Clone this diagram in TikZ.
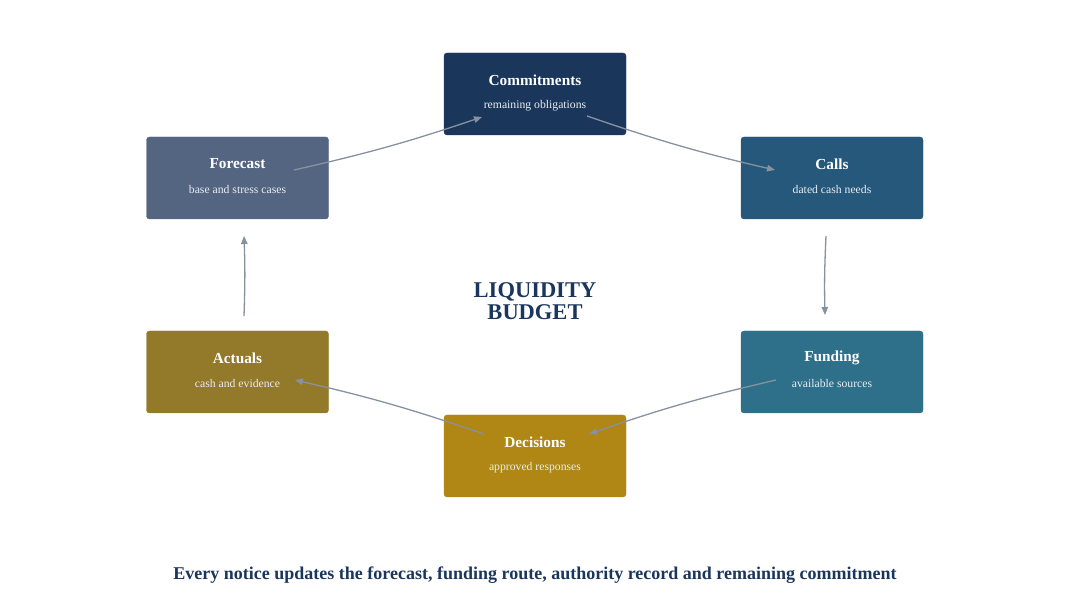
\documentclass[tikz,border=0pt]{standalone}
\usepackage{fontspec}
\setmainfont{Liberation Serif}
\usetikzlibrary{arrows.meta}
\definecolor{cCom}{HTML}{1B365B}
\definecolor{cFor}{HTML}{546582}
\definecolor{cCal}{HTML}{25587A}
\definecolor{cFun}{HTML}{2E708A}
\definecolor{cDec}{HTML}{B08614}
\definecolor{cAct}{HTML}{93792A}
\definecolor{cArr}{HTML}{8791A0}
\definecolor{cTxt}{HTML}{1B365D}
\definecolor{cSub}{HTML}{E8ECF2}
\tikzset{
  box/.style={draw=#1, fill=#1, rounded corners=3pt, minimum width=182pt, minimum height=82pt, inner sep=0pt},
  ttl/.style={text=white, font=\fontsize{15.3}{18}\selectfont\bfseries, inner sep=0pt},
  sub/.style={text=cSub, font=\fontsize{11.7}{13}\selectfont, inner sep=0pt},
  arr/.style={draw=cArr, line width=1.3pt, -{Triangle[length=8pt,width=6.5pt]}},
}
\begin{document}
\begin{tikzpicture}[x=1pt,y=1pt]
\useasboundingbox (0,0) rectangle (1070,610);
% boxes
\node[box=cCom] (com) at (535,516) {};
\node[box=cFor] (for) at (237.5,432) {};
\node[box=cCal] (cal) at (832,432) {};
\node[box=cFun] (fun) at (832,238) {};
\node[box=cDec] (dec) at (535,154) {};
\node[box=cAct] (act) at (237.5,238) {};
% texts
\node[ttl] (comT) at (535,530) {Commitments};
\node[sub] (comS) at (535,504) {remaining obligations};
\node[ttl] (forT) at (237.5,446) {Forecast};
\node[sub] (forS) at (237.5,420) {base and stress cases};
\node[ttl] (calT) at (832,446) {Calls};
\node[sub] (calS) at (832,420) {dated cash needs};
\node[ttl] (funT) at (832,252) {Funding};
\node[sub] (funS) at (832,226) {available sources};
\node[ttl] (decT) at (535,168) {Decisions};
\node[sub] (decS) at (535,142) {approved responses};
\node[ttl] (actT) at (237.5,252) {Actuals};
\node[sub] (actS) at (237.5,226) {cash and evidence};
% centre
\node[text=cTxt, font=\fontsize{22.5}{22}\selectfont\bfseries, align=center, inner sep=0pt] (ctr) at (535,309) {LIQUIDITY\\BUDGET};
% caption
\node[text=cTxt, font=\fontsize{18}{20}\selectfont\bfseries, inner sep=0pt] (cap) at (535,35) {Every notice updates the forecast, funding route, authority record and remaining commitment};
% connector ends
\coordinate (a1s) at (294,440); \coordinate (a1e) at (482,493);
\coordinate (a2s) at (587,494); \coordinate (a2e) at (775,440);
\coordinate (a3s) at (826,374); \coordinate (a3e) at (825,295);
\coordinate (a4s) at (776,230); \coordinate (a4e) at (589,176);
\coordinate (a5s) at (484,176); \coordinate (a5e) at (295,230);
\coordinate (a6s) at (244,294); \coordinate (a6e) at (244,374);
\draw[arr] (a1s) to[bend right=3] (a1e);
\draw[arr] (a2s) to[bend right=3] (a2e);
\draw[arr] (a3s) to[bend right=2] (a3e);
\draw[arr] (a4s) to[bend right=3] (a4e);
\draw[arr] (a5s) to[bend right=3] (a5e);
\draw[arr] (a6s) to[bend right=2] (a6e);
\end{tikzpicture}
\end{document}
